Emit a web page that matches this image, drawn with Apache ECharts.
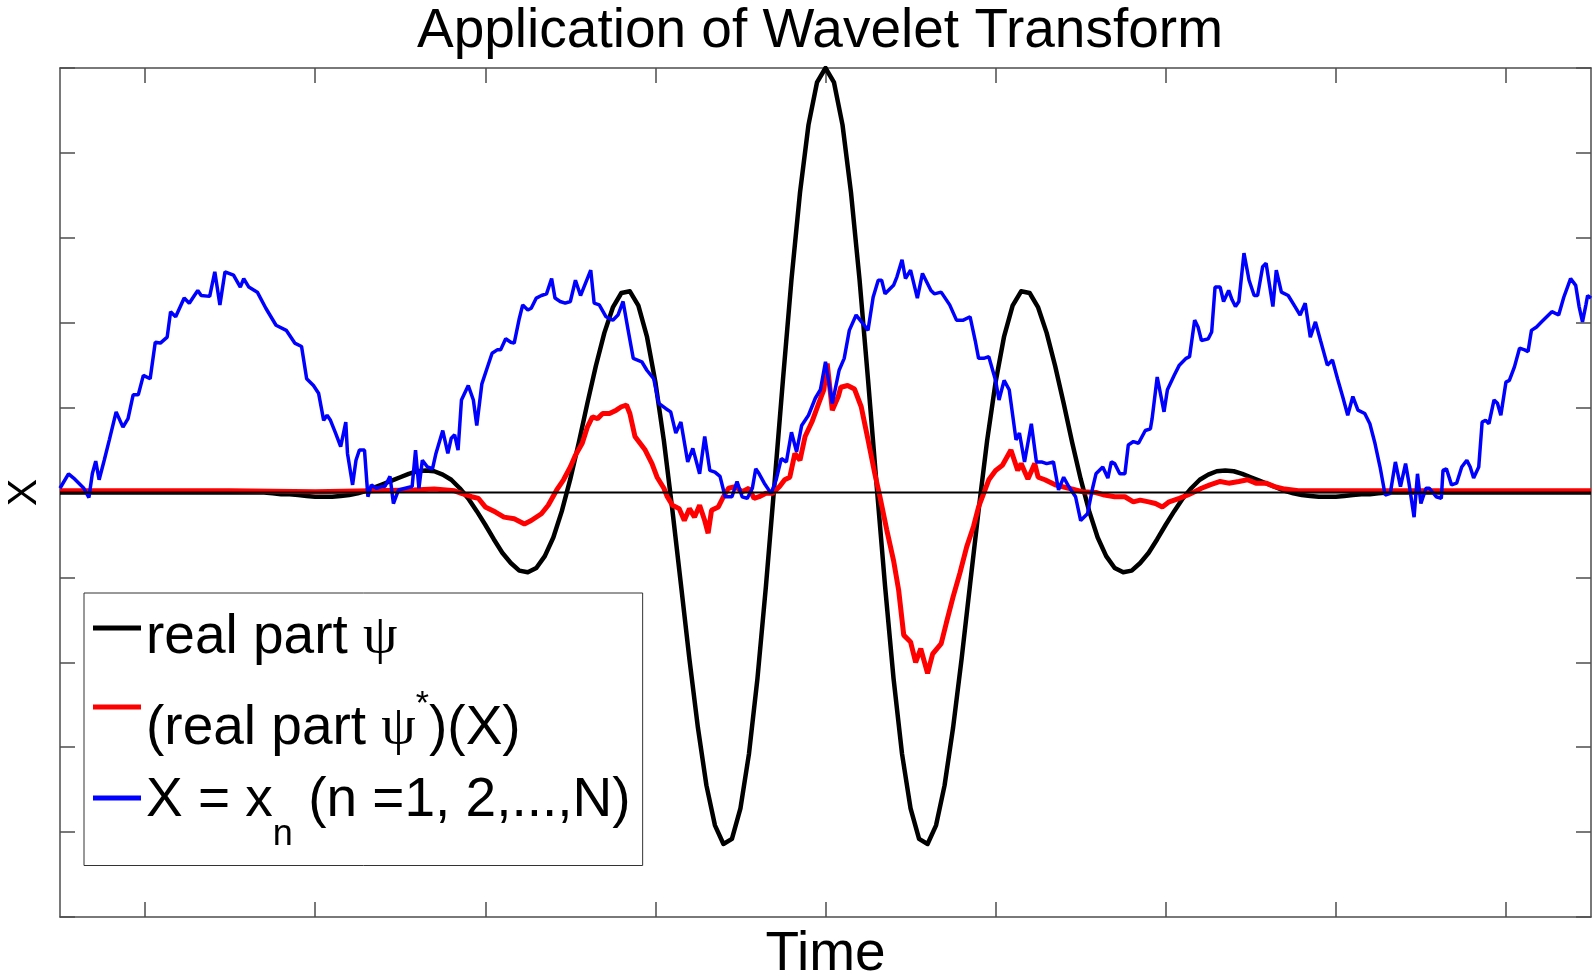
<!DOCTYPE html>
<html>
<head>
<meta charset="utf-8">
<script src="https://cdn.jsdelivr.net/npm/echarts@6/dist/echarts.min.js"></script>
<style>
html,body{margin:0;padding:0;background:#fff;}
#chart{width:1595px;height:976px;}
</style>
</head>
<body>
<div id="chart"></div>
<script>
// ---- data (time in arbitrary units, centre of wavelet at 0) ----
const titleText = 'Application of Wavelet Transform';
const xName = 'Time';
const yName = 'X';
const xTicks = [-4, -3, -2, -1, 0, 1, 2, 3, 4];

// real part of psi (black)
const psiT = [-4.5,-4.0,-3.5,-3.30,-3.25,-3.20,-3.15,-3.10,-3.05,-3.00,-2.95,-2.90,-2.85,-2.80,-2.75,-2.70,-2.65,-2.60,-2.55,-2.50,-2.45,-2.40,-2.35,-2.30,-2.25,-2.20,-2.15,-2.10,-2.05,-2.00,-1.95,-1.90,-1.85,-1.80,-1.75,-1.70,-1.65,-1.60,-1.55,-1.50,-1.45,-1.40,-1.35,-1.30,-1.25,-1.20,-1.15,-1.10,-1.05,-1.00,-0.95,-0.90,-0.85,-0.80,-0.75,-0.70,-0.65,-0.60,-0.55,-0.50,-0.45,-0.40,-0.35,-0.30,-0.25,-0.20,-0.15,-0.10,-0.05,0.00,0.05,0.10,0.15,0.20,0.25,0.30,0.35,0.40,0.45,0.50,0.55,0.60,0.65,0.70,0.75,0.80,0.85,0.90,0.95,1.00,1.05,1.10,1.15,1.20,1.25,1.30,1.35,1.40,1.45,1.50,1.55,1.60,1.65,1.70,1.75,1.80,1.85,1.90,1.95,2.00,2.05,2.10,2.15,2.20,2.25,2.30,2.35,2.40,2.45,2.50,2.55,2.60,2.65,2.70,2.75,2.80,2.85,2.90,2.95,3.00,3.05,3.10,3.15,3.20,3.25,3.30,3.5,4.0,4.5];
const psiV = [0,0,0,0.00,-0.01,-0.02,-0.02,-0.03,-0.04,-0.05,-0.05,-0.05,-0.04,-0.03,-0.01,0.02,0.06,0.10,0.14,0.18,0.22,0.25,0.26,0.25,0.21,0.15,0.05,-0.07,-0.22,-0.38,-0.55,-0.71,-0.83,-0.92,-0.94,-0.89,-0.75,-0.53,-0.22,0.16,0.59,1.05,1.49,1.88,2.18,2.35,2.37,2.20,1.84,1.30,0.61,-0.21,-1.08,-1.96,-2.77,-3.45,-3.92,-4.14,-4.08,-3.72,-3.08,-2.19,-1.10,0.10,1.33,2.51,3.53,4.33,4.83,5.00,4.83,4.33,3.53,2.51,1.33,0.10,-1.10,-2.19,-3.08,-3.72,-4.08,-4.14,-3.92,-3.45,-2.77,-1.96,-1.08,-0.21,0.61,1.30,1.84,2.20,2.37,2.35,2.18,1.88,1.49,1.05,0.59,0.16,-0.22,-0.53,-0.75,-0.89,-0.94,-0.92,-0.83,-0.71,-0.55,-0.38,-0.22,-0.07,0.05,0.15,0.21,0.25,0.26,0.25,0.22,0.18,0.14,0.10,0.06,0.02,-0.01,-0.03,-0.04,-0.05,-0.05,-0.05,-0.04,-0.03,-0.02,-0.02,-0.01,0.00,0,0,0];

// (real part psi*)(X) (red)
const convT = [-4.5,-4.0,-3.5,-3.0,-2.42,-2.30,-2.18,-2.14,-2.08,-2.04,-2.00,-1.94,-1.89,-1.83,-1.77,-1.73,-1.67,-1.63,-1.58,-1.54,-1.50,-1.47,-1.43,-1.40,-1.37,-1.34,-1.31,-1.27,-1.23,-1.20,-1.17,-1.15,-1.12,-1.09,-1.06,-1.02,-0.99,-0.95,-0.93,-0.90,-0.86,-0.83,-0.80,-0.77,-0.74,-0.71,-0.69,-0.67,-0.63,-0.60,-0.57,-0.53,-0.49,-0.45,-0.42,-0.39,-0.35,-0.31,-0.27,-0.24,-0.21,-0.18,-0.15,-0.12,-0.08,-0.04,-0.01,0.01,0.04,0.075,0.09,0.13,0.17,0.21,0.25,0.29,0.32,0.36,0.40,0.43,0.46,0.50,0.53,0.56,0.60,0.63,0.68,0.71,0.75,0.79,0.83,0.87,0.90,0.93,0.96,1.00,1.04,1.09,1.13,1.15,1.19,1.23,1.25,1.29,1.35,1.43,1.51,1.59,1.64,1.70,1.76,1.81,1.85,1.90,1.94,1.98,2.02,2.08,2.13,2.17,2.21,2.26,2.32,2.37,2.43,2.48,2.53,2.59,2.64,2.70,2.78,3.0,3.5,4.0,4.5];
const convV = [0.02,0.02,0.02,0.01,0.03,0.04,0.02,-0.01,-0.05,-0.07,-0.17,-0.23,-0.29,-0.31,-0.37,-0.33,-0.25,-0.15,0.03,0.15,0.30,0.44,0.58,0.77,0.89,0.87,0.93,0.93,0.97,1.01,1.03,0.93,0.66,0.58,0.50,0.34,0.18,0.05,-0.05,-0.15,-0.19,-0.33,-0.19,-0.29,-0.15,-0.33,-0.48,-0.21,-0.17,-0.05,0.05,0.07,0.01,0.05,-0.07,-0.05,-0.01,-0.01,0.07,0.15,0.18,0.46,0.38,0.66,0.83,1.05,1.21,1.52,0.97,1.13,1.24,1.26,1.22,1.01,0.62,0.22,-0.05,-0.44,-0.80,-1.15,-1.68,-1.76,-2.00,-1.84,-2.13,-1.90,-1.78,-1.54,-1.23,-0.95,-0.64,-0.40,-0.17,-0.01,0.15,0.26,0.32,0.50,0.26,0.34,0.16,0.34,0.18,0.15,0.09,0.05,0.01,0.00,-0.03,-0.05,-0.05,-0.11,-0.09,-0.11,-0.13,-0.17,-0.11,-0.07,-0.03,0.01,0.05,0.09,0.13,0.11,0.13,0.15,0.11,0.11,0.07,0.04,0.02,0.02,0.02,0.02,0.02];

// X = x_n (blue)
const sigT = [-4.50,-4.45,-4.42,-4.36,-4.33,-4.31,-4.29,-4.27,-4.24,-4.21,-4.17,-4.13,-4.10,-4.07,-4.04,-4.01,-3.97,-3.94,-3.91,-3.87,-3.85,-3.82,-3.77,-3.74,-3.71,-3.69,-3.67,-3.62,-3.59,-3.56,-3.53,-3.48,-3.44,-3.42,-3.39,-3.34,-3.29,-3.23,-3.17,-3.12,-3.08,-3.05,-3.01,-2.98,-2.95,-2.93,-2.91,-2.88,-2.85,-2.82,-2.81,-2.78,-2.76,-2.74,-2.71,-2.69,-2.67,-2.64,-2.61,-2.59,-2.56,-2.54,-2.51,-2.47,-2.43,-2.41,-2.39,-2.37,-2.34,-2.31,-2.29,-2.25,-2.22,-2.20,-2.18,-2.16,-2.14,-2.10,-2.07,-2.05,-2.02,-1.99,-1.96,-1.93,-1.91,-1.88,-1.85,-1.83,-1.80,-1.78,-1.75,-1.73,-1.70,-1.67,-1.64,-1.61,-1.59,-1.56,-1.53,-1.50,-1.47,-1.44,-1.42,-1.38,-1.36,-1.33,-1.29,-1.25,-1.22,-1.19,-1.16,-1.13,-1.08,-1.05,-1.01,-0.98,-0.94,-0.91,-0.88,-0.85,-0.81,-0.78,-0.74,-0.71,-0.68,-0.65,-0.62,-0.59,-0.55,-0.52,-0.49,-0.46,-0.43,-0.41,-0.39,-0.36,-0.32,-0.29,-0.26,-0.23,-0.20,-0.17,-0.14,-0.10,-0.06,-0.03,0.00,0.04,0.08,0.11,0.14,0.18,0.22,0.25,0.28,0.31,0.33,0.35,0.40,0.42,0.45,0.47,0.50,0.54,0.57,0.62,0.64,0.68,0.73,0.77,0.81,0.85,0.88,0.90,0.93,0.96,1.00,1.02,1.05,1.08,1.12,1.14,1.17,1.21,1.24,1.27,1.30,1.34,1.37,1.40,1.43,1.47,1.50,1.54,1.57,1.59,1.63,1.66,1.68,1.70,1.73,1.76,1.78,1.81,1.84,1.88,1.91,1.92,1.95,1.99,2.01,2.05,2.08,2.12,2.14,2.17,2.19,2.21,2.25,2.27,2.29,2.32,2.34,2.37,2.39,2.41,2.43,2.46,2.49,2.52,2.54,2.57,2.59,2.63,2.65,2.68,2.72,2.76,2.79,2.82,2.85,2.88,2.91,2.95,2.98,3.01,3.04,3.07,3.10,3.13,3.17,3.20,3.23,3.26,3.29,3.32,3.35,3.38,3.41,3.43,3.46,3.48,3.50,3.53,3.55,3.59,3.62,3.63,3.65,3.68,3.71,3.74,3.77,3.79,3.81,3.84,3.86,3.88,3.90,3.93,3.95,3.97,4.00,4.02,4.05,4.08,4.11,4.13,4.15,4.18,4.21,4.24,4.27,4.31,4.34,4.38,4.41,4.43,4.45,4.47,4.48,4.50];
const sigV = [0.05,0.22,0.17,0.05,-0.06,0.22,0.37,0.15,0.38,0.62,0.95,0.77,0.87,1.15,1.15,1.38,1.34,1.77,1.76,1.83,2.13,2.07,2.29,2.23,2.32,2.38,2.32,2.31,2.60,2.21,2.60,2.56,2.42,2.52,2.42,2.36,2.17,1.97,1.91,1.76,1.72,1.34,1.26,1.17,0.85,0.91,0.85,0.70,0.54,0.83,0.46,0.09,0.38,0.50,0.50,-0.05,0.09,0.05,0.07,0.07,0.19,-0.13,0.03,0.05,0.07,0.50,0.05,0.38,0.30,0.28,0.46,0.73,0.46,0.64,0.68,0.50,1.09,1.26,1.09,0.79,1.28,1.46,1.64,1.68,1.68,1.81,1.77,1.76,2.05,2.21,2.15,2.17,2.29,2.32,2.34,2.52,2.29,2.25,2.23,2.25,2.50,2.32,2.42,2.62,2.23,2.21,2.07,2.03,2.09,2.25,1.91,1.58,1.54,1.44,1.34,1.05,0.99,0.95,0.70,0.83,0.36,0.52,0.22,0.66,0.26,0.24,0.19,-0.05,-0.05,0.13,-0.05,-0.07,0.05,0.28,0.22,0.11,-0.01,0.15,0.40,0.36,0.71,0.48,0.79,0.91,1.11,1.21,1.54,1.05,1.44,1.58,1.91,2.09,1.99,1.91,2.30,2.50,2.50,2.34,2.44,2.54,2.74,2.52,2.62,2.29,2.58,2.38,2.34,2.36,2.21,2.03,2.03,2.07,1.79,1.58,1.58,1.60,1.32,1.09,1.32,1.21,0.62,0.70,0.36,0.81,0.36,0.36,0.34,0.36,0.03,0.18,0.07,-0.05,-0.33,-0.25,0.05,0.22,0.30,0.17,0.36,0.34,0.22,0.22,0.56,0.60,0.58,0.73,0.75,0.87,1.36,0.95,1.21,1.38,1.50,1.58,1.60,2.03,1.95,1.79,1.81,1.89,2.42,2.42,2.25,2.38,2.27,2.19,2.25,2.82,2.50,2.32,2.32,2.66,2.70,2.19,2.62,2.36,2.32,2.19,2.09,2.23,1.83,2.01,1.79,1.50,1.56,1.34,1.13,0.91,1.13,0.97,0.93,0.81,0.58,0.30,-0.03,-0.01,0.36,0.07,0.34,0.11,-0.29,0.22,-0.13,0.05,0.05,-0.05,-0.07,0.26,0.28,0.09,0.11,0.30,0.38,0.30,0.17,0.30,0.83,0.85,0.81,1.09,1.05,0.91,1.30,1.32,1.48,1.70,1.68,1.66,1.91,1.95,2.01,2.07,2.13,2.09,2.30,2.52,2.44,2.19,2.01,2.21,2.32,2.29];

const zeroT = [-4.5, 4.5];
const zeroV = [0, 0];

const names = ['real part psi', '(real part psi*)(X)', 'X = x_n'];

// ---- build ----
const pair = (ts, vs) => ts.map((t, i) => [t, vs[i]]);
const SANS = '"Liberation Sans", Arial, Helvetica, sans-serif';
const SERIF = '"Liberation Serif", "DejaVu Serif", serif';
const AX = '#4d4d4d';

function axisCommon(extra) {
  return Object.assign({
    axisLine: { show: true, onZero: false, lineStyle: { color: AX, width: 1.5 } },
    axisTick: { show: true, inside: true, length: 15, lineStyle: { color: AX, width: 1.5 } },
    axisLabel: { show: false },
    splitLine: { show: false }
  }, extra);
}

const legendText = {};
legendText[names[0]] = '{a1|real part }{g1|\u03c8}';
legendText[names[1]] = '{a2|(real part }{g2|\u03c8}{s2|*}{a2|)(X)}';
legendText[names[2]] = '{a3|X = x}{n3|n}{a3| (n =1, 2,...,N)}';

const chart = echarts.init(document.getElementById('chart'), null, { renderer: 'canvas' });
chart.setOption({
  animation: false,
  backgroundColor: '#fff',
  title: {
    text: titleText,
    left: 417, top: 4, padding: 0,
    textStyle: { fontSize: 55, fontWeight: 'normal', color: '#000', fontFamily: SANS }
  },
  grid: { left: 60, right: 4, top: 68, bottom: 59, containLabel: false, outerBoundsMode: 'none' },
  xAxis: [
    axisCommon({
      type: 'value', min: -4.5, max: 4.5, position: 'bottom',
      name: xName, nameLocation: 'middle', nameGap: 10,
      nameTextStyle: { fontSize: 55, color: '#000', fontFamily: SANS },
      axisTick: { show: true, inside: true, length: 15, customValues: xTicks, lineStyle: { color: AX, width: 1.5 } }
    }),
    axisCommon({
      type: 'value', min: -4.5, max: 4.5, position: 'top',
      axisTick: { show: true, inside: true, length: 15, customValues: xTicks, lineStyle: { color: AX, width: 1.5 } }
    })
  ],
  yAxis: [
    axisCommon({
      type: 'value', min: -5, max: 5, interval: 1, position: 'left',
      name: yName, nameLocation: 'middle', nameGap: 15, nameRotate: 90,
      nameTextStyle: { fontSize: 41, color: '#000', fontFamily: SANS }
    }),
    axisCommon({ type: 'value', min: -5, max: 5, interval: 1, position: 'right' })
  ],
  legend: {
    data: names,
    orient: 'vertical',
    left: 84, top: 593,
    itemWidth: 48, itemHeight: 5, itemGap: 14,
    padding: [7.5, 12, 12, 9],
    borderColor: '#333', borderWidth: 1, backgroundColor: '#fff',
    icon: 'rect',
    selectedMode: false,
    formatter: (n) => legendText[n],
    textStyle: {
      color: '#000',
      rich: {
        a1: { fontSize: 55, lineHeight: 55, fontFamily: SANS, verticalAlign: 'top', padding: [10, 0, 0, 0] },
        g1: { fontSize: 55, lineHeight: 55, fontFamily: SERIF, verticalAlign: 'top', padding: [10, 0, 0, 0] },
        a2: { fontSize: 55, lineHeight: 55, fontFamily: SANS, verticalAlign: 'top', padding: [22, 0, 0, 0] },
        g2: { fontSize: 55, lineHeight: 55, fontFamily: SERIF, verticalAlign: 'top', padding: [22, 0, 0, 0] },
        s2: { fontSize: 34, lineHeight: 34, fontFamily: SANS, verticalAlign: 'top', padding: [8, 0, 0, 0] },
        a3: { fontSize: 55, lineHeight: 55, fontFamily: SANS, verticalAlign: 'top', padding: [3, 0, 0, 0] },
        n3: { fontSize: 36, lineHeight: 36, fontFamily: SANS, verticalAlign: 'top', padding: [47, 0, 0, 0] }
      }
    }
  },
  series: [
    {
      name: names[0], type: 'line', xAxisIndex: 0, yAxisIndex: 0,
      data: pair(psiT, psiV), smooth: false, showSymbol: false, symbol: 'none',
      color: '#000', lineStyle: { color: '#000', width: 4.5, join: 'round' }
    },
    {
      name: names[1], type: 'line', xAxisIndex: 0, yAxisIndex: 0,
      data: pair(convT, convV), showSymbol: false, symbol: 'none',
      color: '#ff0000', lineStyle: { color: '#ff0000', width: 5 }
    },
    {
      name: names[2], type: 'line', xAxisIndex: 0, yAxisIndex: 0,
      data: pair(sigT, sigV), showSymbol: false, symbol: 'none',
      color: '#0000ff', lineStyle: { color: '#0000ff', width: 3.5 }
    },
    {
      name: 'zero', type: 'line', xAxisIndex: 0, yAxisIndex: 0,
      data: pair(zeroT, zeroV), showSymbol: false, symbol: 'none', silent: true,
      color: '#000', lineStyle: { color: '#000', width: 1.8 }
    }
  ]
});
</script>
</body>
</html>
